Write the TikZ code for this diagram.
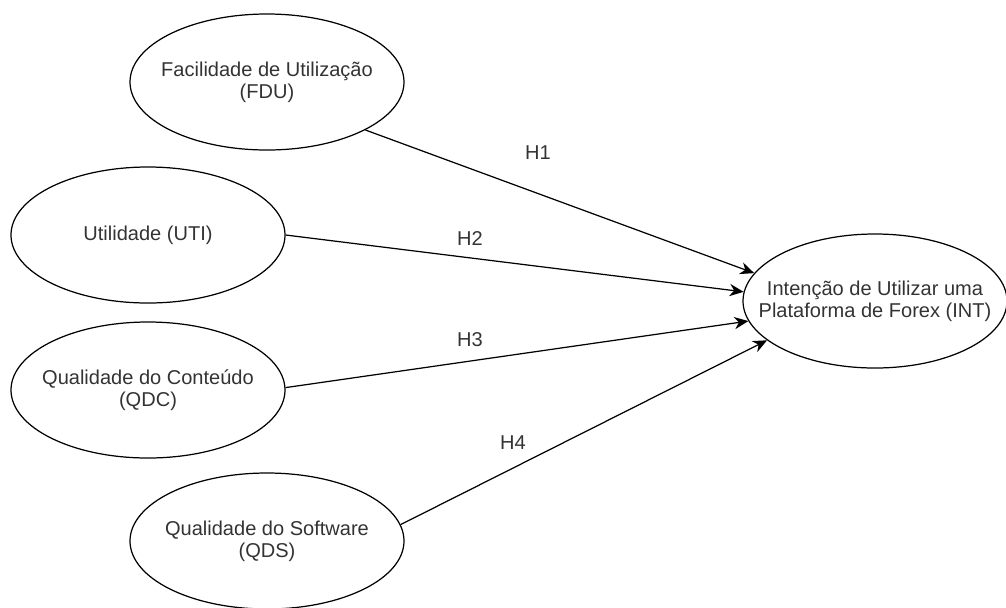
\documentclass[tikz,border=0pt]{standalone}
\usepackage{fontspec}
\setmainfont{Liberation Sans}
\usetikzlibrary{shapes.geometric}
\usetikzlibrary{arrows.meta}
\tikzstyle{latnode} = [draw, ellipse, line width=0.7pt, minimum width=5.48cm, minimum height=2.72cm, inner sep=0pt]
\tikzstyle{nodetext} = [text=black!80, align=center, inner sep=0pt, font=\fontsize{11.4}{12.6}\selectfont]
\tikzstyle{hyp} = [draw, line width=0.7pt, -{Stealth[length=8pt,width=7pt]}]
\tikzstyle{hlabel} = [text=black!80, font=\fontsize{11.4}{12.6}\selectfont]

\begin{document}
\begin{tikzpicture}
    \useasboundingbox (0,0) rectangle (20.12,-12.14);

    \node[latnode, label={[nodetext]center:{Facilidade de Utilização\\(FDU)}}] (fdu) at (5.34,-1.64) {};
    \node[latnode, label={[nodetext]center:{Utilidade (UTI)}}] (uti) at (2.96,-4.70) {};
    \node[latnode, label={[nodetext]center:{Qualidade do Conteúdo\\(QDC)}}] (qdc) at (2.96,-7.80) {};
    \node[latnode, label={[nodetext]center:{Qualidade do Software\\(QDS)}}] (qds) at (5.34,-10.82) {};
    \node[latnode, minimum width=5.28cm, minimum height=2.68cm, label={[nodetext]center:{Intenção de Utilizar uma\\Plataforma de Forex (INT)}}] (int) at (17.50,-6.02) {};

    \draw[hyp] (fdu.-26) -- (int.167);
    \draw[hyp] (uti.0) -- (int.176);
    \draw[hyp] (qdc.1) -- (int.-171);
    \draw[hyp] (qds.7) -- (int.-160);

    \node[hlabel] (h1) at (10.76,-3.06) {H1};
    \node[hlabel] (h2) at (9.40,-4.76) {H2};
    \node[hlabel] (h3) at (9.40,-6.80) {H3};
    \node[hlabel] (h4) at (10.26,-8.86) {H4};
\end{tikzpicture}
\end{document}
